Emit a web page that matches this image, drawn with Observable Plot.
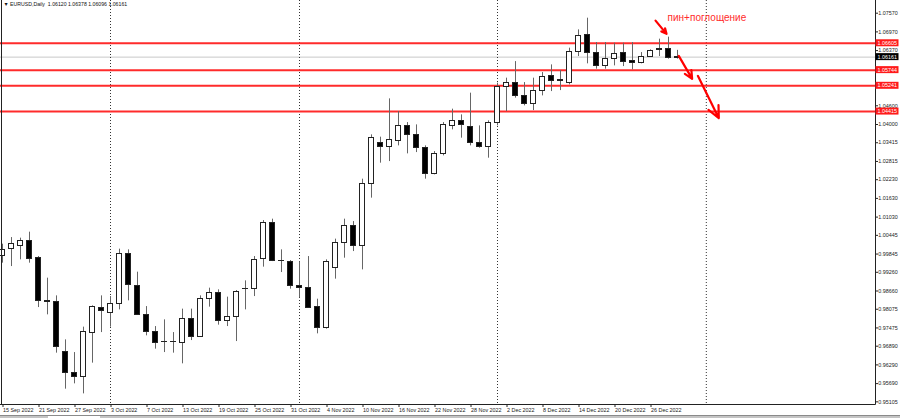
<!DOCTYPE html>
<html><head><meta charset="utf-8">
<script src="https://cdn.jsdelivr.net/npm/d3@7"></script>
<script src="https://cdn.jsdelivr.net/npm/@observablehq/plot@0.6"></script>
<style>
html,body{margin:0;padding:0;background:#fff;}
#chart{width:900px;height:418px;overflow:hidden;}
</style></head><body><div id="chart"></div>
<script>
// ---- data ----
const symbol = "EURUSD,Daily";
const tickIdx = [0,4,8,12,16,20,24,28,32,36,40,44,48,52,56,60,64,68,72];
const tickLabels = ["15 Sep 2022","21 Sep 2022","27 Sep 2022","3 Oct 2022","7 Oct 2022","13 Oct 2022","19 Oct 2022","25 Oct 2022","31 Oct 2022","4 Nov 2022","10 Nov 2022","16 Nov 2022","22 Nov 2022","28 Nov 2022","2 Dec 2022","8 Dec 2022","14 Dec 2022","20 Dec 2022","26 Dec 2022"];
const open = [
0.99787,1.00002,1.00117,1.00268,0.99713,0.98344,0.98320,0.96699,0.96045,0.95897,
0.97327,0.98129,0.97969,0.98238,0.99861,0.98835,0.97895,0.97359,0.97029,0.97020,
0.97007,0.97757,0.97199,0.98398,0.98591,0.97703,0.97840,0.98719,0.98719,0.99681,
1.00836,0.99636,0.99604,0.98825,0.98751,0.98161,0.97468,0.99393,1.00194,1.00749,
1.00117,1.02087,1.03421,1.03273,1.03485,1.03956,1.03668,1.03241,1.02407,1.03049,
1.03966,1.04126,1.03934,1.03401,1.03292,1.04062,1.05197,1.05326,1.04918,1.04662,
1.05088,1.05569,1.05409,1.05345,1.06339,1.06875,1.06307,1.05880,1.06095,1.06288,
1.06050,1.05986,1.06179,1.06405,1.06416,1.06120];
const high = [
1.00162,1.00374,1.00355,1.00547,0.99765,0.99072,0.98504,0.97093,0.96686,0.97501,
0.98184,0.98504,0.98482,1.00002,0.99980,0.99264,0.98161,0.97520,0.97735,0.97327,
0.98078,0.98078,0.98504,0.98751,0.98697,0.98463,0.98674,0.98985,0.99765,1.00919,
1.00964,0.99980,0.99636,0.99595,0.99765,0.98398,0.99659,1.00323,1.00964,1.00887,
1.02247,1.03668,1.03594,1.04822,1.04415,1.04062,1.03988,1.03315,1.03132,1.04062,
1.04492,1.04309,1.05005,1.03956,1.04117,1.05326,1.05486,1.06018,1.05345,1.05486,
1.05666,1.05912,1.05730,1.06448,1.07035,1.07410,1.06628,1.06628,1.06608,1.06608,
1.06628,1.06307,1.06394,1.06737,1.06801,1.06378];
const low = [
0.99553,0.99444,0.99659,0.99553,0.98129,0.97895,0.96667,0.95512,0.95682,0.95361,
0.96346,0.97327,0.97501,0.98055,0.98344,0.97880,0.97222,0.96795,0.96686,0.96667,
0.96324,0.97071,0.97180,0.98142,0.97565,0.97520,0.97039,0.98055,0.98482,0.99425,
0.99604,0.99252,0.98719,0.98440,0.98110,0.97286,0.97437,0.99040,0.99713,0.99925,
0.99338,1.01638,1.02760,1.02811,1.03315,1.03058,1.03100,1.02247,1.02385,1.02994,
1.03828,1.03562,1.03315,1.03241,1.02920,1.03956,1.04415,1.04845,1.04598,1.04447,
1.04918,1.05056,1.05088,1.05271,1.06179,1.05945,1.05775,1.05775,1.05880,1.05858,
1.05752,1.05945,1.06159,1.06179,1.06095,1.06096];
const close = [
0.99980,1.00162,1.00268,0.99681,0.98344,0.98312,0.96859,0.96045,0.95897,0.97359,
0.98142,0.98033,0.98238,0.99842,0.98847,0.97885,0.97359,0.97007,0.97015,0.97035,
0.97757,0.97180,0.98398,0.98591,0.97703,0.97840,0.98633,0.98725,0.99659,1.00855,
0.99627,0.99630,0.98825,0.98751,0.98129,0.97468,0.99604,1.00214,1.00749,1.00108,
1.02096,1.03562,1.03292,1.03507,1.03956,1.03658,1.03251,1.02407,1.03058,1.03988,
1.04126,1.03988,1.03421,1.03292,1.04062,1.05197,1.05326,1.04918,1.04662,1.05088,
1.05537,1.05409,1.05420,1.06339,1.06843,1.06307,1.05880,1.06095,1.06265,1.06018,
1.05986,1.06159,1.06371,1.06420,1.06127,1.06161];
const levels = [1.06605, 1.05744, 1.05241, 1.04415];
const bid = 1.06161;
const yTicks = [1.07570,1.06970,1.06370,1.04600,1.04000,1.03415,1.02815,1.02230,1.01630,1.01030,1.00445,0.99845,0.99260,0.98660,0.98075,0.97475,0.96890,0.96290,0.95690,0.95105];
const separators = [12, 33, 55, 78.2];
const arrowX1 = [72.56, 75.14, 77.26];
const arrowY1 = [1.07333, 1.06201, 1.05560];
const arrowX2 = [73.78, 76.63, 79.59];
const arrowY2 = [1.06907, 1.05463, 1.04203];
const noteText = "пин+поглощение";
const noteX = 73.9, noteY = 1.07429;

// ---- build ----
const candles = open.map((o, k) => ({i: k, o, h: high[k], l: low[k], c: close[k]}));
const arrows = arrowX1.map((x, k) => ({x1: x, y1: arrowY1[k], x2: arrowX2[k], y2: arrowY2[k]}));
const last = candles[candles.length - 1];
const title = `▼ ${symbol}  ${last.o.toFixed(5)} ${last.h.toFixed(5)} ${last.l.toFixed(5)} ${last.c.toFixed(5)}`;

const W = 900, H = 418;
const chart = Plot.plot({
  width: W, height: H,
  marginLeft: 0, marginRight: 25, marginTop: 0, marginBottom: 14,
  style: {fontFamily: "'Liberation Sans', Arial, sans-serif", fontSize: "5.4px", color: "#222", background: "#fff"},
  x: {type: "linear", domain: [-2/9, 873/9]},
  y: {type: "linear", domain: [0.95020, 1.07977]},
  marks: [
    Plot.ruleY([bid], {stroke: "#c8c8c8", strokeWidth: 1}),
    Plot.ruleX(separators, {stroke: "#333", strokeDasharray: "1 2", strokeWidth: 1}),
    Plot.ruleY(levels, {stroke: "#ff2b2b", strokeWidth: 2}),
    Plot.ruleX(candles, {x: "i", y1: "l", y2: "h", stroke: "#666", strokeWidth: 1}),
    Plot.rect(candles, {x1: d => d.i - 0.28, x2: d => d.i + 0.28, y1: "o", y2: "c",
      fill: d => d.c >= d.o ? "#fff" : "#000", stroke: "#222", strokeWidth: 1, shapeRendering: "crispEdges"}),
    Plot.arrow(arrows, {x1: "x1", y1: "y1", x2: "x2", y2: "y2", stroke: "#f00", strokeWidth: 2.2, headLength: 9, headAngle: 50}),
    Plot.text([noteText], {x: noteX, y: noteY, text: d => d, textAnchor: "start", fill: "#ff2b2b", fontSize: 10}),
    Plot.text([title], {frameAnchor: "top-left", dx: 3, dy: 2, lineAnchor: "top", textAnchor: "start", fontSize: 5.2, fill: "#111"}),
    Plot.axisY(yTicks, {anchor: "right", tickSize: 2, tickPadding: 0.8, label: null, tickFormat: d => d.toFixed(5)}),
    Plot.axisX(tickIdx, {anchor: "bottom", tickSize: 3, tickPadding: 0.5, label: null, textAnchor: "start", dx: 0.5,
      tickFormat: i => tickLabels[tickIdx.indexOf(i)]})
  ]
});
document.getElementById("chart").appendChild(chart);

// frame lines and price labels on the axis, placed with the plot's own y scale
const svg = d3.select(chart);
const sy = chart.scale("y");
const g = svg.append("g").attr("text-anchor", "start");
const fx0 = 1.5, fx1 = W - 25 + 0.5, fy1 = H - 14 + 0.5;
g.append("line").attr("x1", fx0).attr("x2", fx0).attr("y1", 0).attr("y2", fy1).attr("stroke", "#222");
g.append("line").attr("x1", fx1).attr("x2", fx1).attr("y1", 0).attr("y2", fy1).attr("stroke", "#222");
g.append("line").attr("x1", 0).attr("x2", fx1).attr("y1", fy1).attr("y2", fy1).attr("stroke", "#222");
const boxes = levels.map(v => ({v, bg: "#ff1a1a"})).concat([{v: bid, bg: "#000"}]);
boxes.forEach(b => {
  const yy = sy.apply(b.v);
  g.append("rect").attr("x", fx1).attr("y", yy - 3.5).attr("width", 23).attr("height", 7).attr("fill", b.bg);
  g.append("text").attr("x", fx1 + 2).attr("y", yy).attr("dy", "0.35em").attr("text-anchor", "start")
    .attr("fill", "#fff").attr("font-size", "5.4px").text(b.v.toFixed(5));
});
// bottom tab strip
g.append("rect").attr("x", 0).attr("y", 415).attr("width", W).attr("height", 3).attr("fill", "#c4c4c4");
g.append("line").attr("x1", 0).attr("x2", W).attr("y1", 415.5).attr("y2", 415.5).attr("stroke", "#8a8a8a");
g.append("rect").attr("x", 48).attr("y", 416).attr("width", 52).attr("height", 2).attr("fill", "#fff");
</script>
</body></html>
